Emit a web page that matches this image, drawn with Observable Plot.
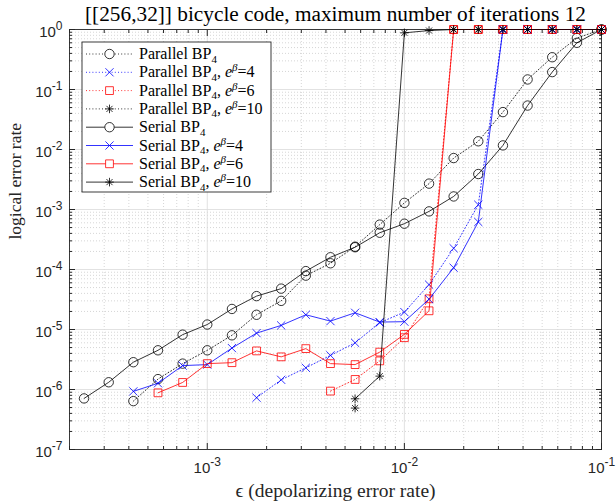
<!DOCTYPE html>
<html><head><meta charset="utf-8">
<script src="https://cdn.jsdelivr.net/npm/d3@7"></script>
<script src="https://cdn.jsdelivr.net/npm/@observablehq/plot@0.6"></script>
<style>
body{margin:0;background:#fff}
#chart{position:relative;width:616px;height:504px}
</style>
</head><body><div id="chart"></div>
<script>
// ε values (depolarizing error rate)
const eps = [2.371e-4, 3.162e-4, 4.217e-4, 5.623e-4, 7.499e-4, 1e-3, 1.334e-3, 1.778e-3, 2.371e-3, 3.162e-3, 4.217e-3,
             5.623e-3, 7.499e-3, 1e-2, 1.334e-2, 1.778e-2, 2.371e-2, 3.162e-2, 4.217e-2, 5.623e-2, 7.499e-2, 1e-1];

// logical error rates (null = not plotted)
const parallelBP4   = [null, null, 6.4e-7, 1.49e-6, 2.7e-6, 4.5e-6, 8.0e-6, 1.76e-5, 3.0e-5, 7.9e-5, 1.27e-4,
                       2.4e-4, 5.6e-4, 1.29e-3, 2.7e-3, 7.2e-3, 1.37e-2, 4.2e-2, 0.147, 0.345, 0.72, 1.0];
const parallelBeta4 = [null, null, null, null, null, null, null, 7.3e-7, 1.45e-6, 2.3e-6, 3.7e-6,
                       6.0e-6, 1.3e-5, 1.95e-5, 5.6e-5, 2.26e-4, 1.2e-3, 1, 1, 1, 1, 1];
const parallelBeta6 = [null, null, null, null, null, null, null, null, null, null, 9.4e-7,
                       1.47e-6, 3.0e-6, 7.3e-6, 3.25e-5, 1, 1, 1, 1, 1, 1, 1];
const parallelBeta10= [null, null, null, null, null, null, null, null, null, null, null,
                       4.9e-7, null, null, null, 1, 1, 1, 1, 1, 1, 1];
const serialBP4     = [7.1e-7, 1.32e-6, 2.85e-6, 4.5e-6, 8.2e-6, 1.21e-5, 2.2e-5, 3.6e-5, 4.8e-5, 9.4e-5, 1.6e-4,
                       2.35e-4, 4.1e-4, 5.8e-4, 9.3e-4, 1.65e-3, 3.9e-3, 1.17e-2, 5.4e-2, 0.195, 0.6, 1.0];
const serialBeta4   = [null, null, 9.3e-7, 1.27e-6, 2.5e-6, 2.6e-6, 4.9e-6, 8.7e-6, 1.17e-5, 1.76e-5, 1.38e-5,
                       1.9e-5, 1.33e-5, 1.35e-5, 3.2e-5, 1.07e-4, 6.2e-4, 1, 1, 1, 1, 1];
const serialBeta6   = [null, null, null, 8.8e-7, 1.31e-6, 2.7e-6, 2.8e-6, 4.4e-6, 3.5e-6, 4.8e-6, 2.7e-6,
                       2.6e-6, 4.2e-6, 8.3e-6, 2.05e-5, 1, 1, 1, 1, 1, 1, 1];
const serialBeta10  = [null, null, null, null, null, null, null, null, null, null, null,
                       7.0e-7, 1.67e-6, 0.88, 0.96, 1, 1, 1, 1, 1, 1, 1];

// tick values
const xMajor = [1e-3, 1e-2, 1e-1];
const yMajor = [1e-7, 1e-6, 1e-5, 1e-4, 1e-3, 1e-2, 1e-1, 1];
const mult = [2, 3, 4, 5, 6, 7, 8, 9];
const xMinor = [1e-4, 1e-3, 1e-2].flatMap(d => mult.map(m => m * d)).filter(v => v >= 2e-4 && v < 0.1);
const yMinor = [1e-7, 1e-6, 1e-5, 1e-4, 1e-3, 1e-2, 1e-1].flatMap(d => mult.map(m => m * d));

// 8-armed asterisk like MATLAB '*'
const asterisk8 = {
  draw(ctx, size) {
    const r = Math.sqrt(size / Math.PI), d = r * 0.7071;
    ctx.moveTo(0, -r); ctx.lineTo(0, r);
    ctx.moveTo(-r, 0); ctx.lineTo(r, 0);
    ctx.moveTo(-d, -d); ctx.lineTo(d, d);
    ctx.moveTo(-d, d); ctx.lineTo(d, -d);
  }
};

const series = [
  {values: parallelBP4,    color: "#000000", dash: "1,2.2", symbol: "circle",  r: 4.7, label: [["Parallel BP"],["4","sub"]]},
  {values: parallelBeta4,  color: "#0000ff", dash: "1,2.2", symbol: "times",   r: 3.8, label: [["Parallel BP"],["4","sub"],[", "],["e","it"],["β","sup"],["=4"]]},
  {values: parallelBeta6,  color: "#ff0000", dash: "1,2.2", symbol: "square",  r: 4.4, label: [["Parallel BP"],["4","sub"],[", "],["e","it"],["β","sup"],["=6"]]},
  {values: parallelBeta10, color: "#000000", dash: "1,2.2", symbol: asterisk8, r: 4.3, label: [["Parallel BP"],["4","sub"],[", "],["e","it"],["β","sup"],["=10"]]},
  {values: serialBP4,      color: "#000000", dash: null,    symbol: "circle",  r: 4.7, label: [["Serial BP"],["4","sub"]]},
  {values: serialBeta4,    color: "#0000ff", dash: null,    symbol: "times",   r: 3.8, label: [["Serial BP"],["4","sub"],[", "],["e","it"],["β","sup"],["=4"]]},
  {values: serialBeta6,    color: "#ff0000", dash: null,    symbol: "square",  r: 4.4, label: [["Serial BP"],["4","sub"],[", "],["e","it"],["β","sup"],["=6"]]},
  {values: serialBeta10,   color: "#000000", dash: null,    symbol: asterisk8, r: 4.3, label: [["Serial BP"],["4","sub"],[", "],["e","it"],["β","sup"],["=10"]]}
];

const dataMarks = series.flatMap(s => {
  const rows = eps.map((e, i) => ({x: e, y: s.values[i]}));
  return [
    Plot.line(rows, {x: "x", y: "y", stroke: s.color, strokeWidth: 0.8, strokeDasharray: s.dash}),
    Plot.dot(rows.filter(d => d.y != null), {x: "x", y: "y", stroke: s.color, strokeWidth: 0.8, fill: "none", symbol: s.symbol, r: s.r})
  ];
});

const blank = () => "";
const exp10 = d => "10^" + Math.round(Math.log10(d));
const axisCol = "#262626";

const chart = Plot.plot({
  width: 616, height: 504,
  marginLeft: 69, marginRight: 15, marginTop: 29, marginBottom: 55,
  x: {type: "log", domain: [2e-4, 0.1]},
  y: {type: "log", domain: [1e-7, 1]},
  style: {fontFamily: "Liberation Sans, Arial, sans-serif", fontSize: "15px", color: axisCol, background: "#fff", overflow: "visible"},
  marks: [
    Plot.ruleX(xMinor, {stroke: "#c4c4c4", strokeWidth: 0.7, strokeDasharray: "1,2"}),
    Plot.ruleY(yMinor, {stroke: "#c4c4c4", strokeWidth: 0.7, strokeDasharray: "1,2"}),
    Plot.ruleX(xMajor, {stroke: "#dadada", strokeWidth: 0.8}),
    Plot.ruleY(yMajor, {stroke: "#dadada", strokeWidth: 0.8}),
    // inward ticks on all four sides
    Plot.axisX(xMajor, {anchor: "bottom", tickSize: -6, tickFormat: blank, label: null, stroke: axisCol}),
    Plot.axisX(xMinor, {anchor: "bottom", tickSize: -3, tickFormat: blank, label: null, stroke: axisCol}),
    Plot.axisX(xMajor, {anchor: "top", tickSize: -6, tickFormat: blank, label: null, stroke: axisCol}),
    Plot.axisX(xMinor, {anchor: "top", tickSize: -3, tickFormat: blank, label: null, stroke: axisCol}),
    Plot.axisY(yMajor, {anchor: "left", tickSize: -6, tickFormat: blank, label: null, stroke: axisCol}),
    Plot.axisY(yMinor, {anchor: "left", tickSize: -3, tickFormat: blank, label: null, stroke: axisCol}),
    Plot.axisY(yMajor, {anchor: "right", tickSize: -6, tickFormat: blank, label: null, stroke: axisCol}),
    Plot.axisY(yMinor, {anchor: "right", tickSize: -3, tickFormat: blank, label: null, stroke: axisCol}),
    // tick labels
    Plot.axisX(xMajor, {anchor: "bottom", tickSize: 0, tickPadding: 13, tickFormat: exp10, label: null, fill: axisCol}),
    Plot.axisY(yMajor, {anchor: "left", tickSize: 0, tickPadding: 7, dy: 3, tickFormat: exp10, label: null, fill: axisCol}),
    Plot.frame({stroke: axisCol, strokeWidth: 0.9}),
    ...dataMarks,
    Plot.text(["[[256,32]] bicycle code, maximum number of iterations 12"], {frameAnchor: "top", dy: -15, lineAnchor: "middle", fontFamily: "Liberation Serif, serif", fontSize: 21.3, fill: "#000"}),
    Plot.text(["ϵ (depolarizing error rate)"], {frameAnchor: "bottom", dy: 41, lineAnchor: "middle", fontFamily: "Liberation Serif, serif", fontSize: 19.5, fill: "#262626"}),
    Plot.text(["logical error rate"], {frameAnchor: "left", dx: -54, rotate: -90, lineAnchor: "middle", fontFamily: "Liberation Serif, serif", fontSize: 17.5, fill: "#262626"})
  ]
});

// render exponents as superscripts
d3.select(chart).selectAll("text").each(function() {
  const m = /^10\^(-?\d+)$/.exec(this.textContent);
  if (!m) return;
  const t = d3.select(this);
  t.text("10");
  t.append("tspan").attr("font-size", 12).attr("dy", -7).text(m[1]);
});

// legend
const svg = d3.select(chart);
const lg = svg.append("g").attr("transform", "translate(82,42)");
lg.append("rect").attr("x", 0).attr("y", 0).attr("width", 189).attr("height", 150)
  .attr("fill", "#fff").attr("stroke", axisCol).attr("stroke-width", 0.9);
series.forEach((s, i) => {
  const y = 12 + i * 18.3;
  const g = lg.append("g").attr("transform", `translate(0,${y})`);
  g.append("line").attr("x1", 4).attr("x2", 51).attr("y1", 0).attr("y2", 0)
    .attr("stroke", s.color).attr("stroke-width", 0.8).attr("stroke-dasharray", s.dash);
  const sym = typeof s.symbol === "string"
    ? {circle: d3.symbolCircle, times: d3.symbolTimes, square: d3.symbolSquare}[s.symbol]
    : s.symbol;
  g.append("path").attr("transform", "translate(27.5,0)")
    .attr("d", d3.symbol(sym, Math.PI * s.r * s.r)())
    .attr("fill", s.symbol === "circle" || s.symbol === "square" ? "#fff" : "none")
    .attr("stroke", s.color).attr("stroke-width", 0.8);
  const t = g.append("text").attr("x", 57).attr("y", 5).attr("text-anchor", "start")
    .attr("font-family", "Liberation Serif, serif").attr("font-size", 16).attr("fill", "#000");
  let shift = 0;
  s.label.forEach(([txt, kind]) => {
    const sp = t.append("tspan").text(txt);
    let target = 0;
    if (kind === "sub") { sp.attr("font-size", 11); target = 3.5; }
    else if (kind === "sup") { sp.attr("font-size", 11); sp.attr("font-style", "italic"); target = -6; }
    else if (kind === "it") { sp.attr("font-style", "italic"); }
    sp.attr("dy", target - shift);
    shift = target;
  });
});

document.getElementById("chart").appendChild(chart);
</script>
</body></html>
